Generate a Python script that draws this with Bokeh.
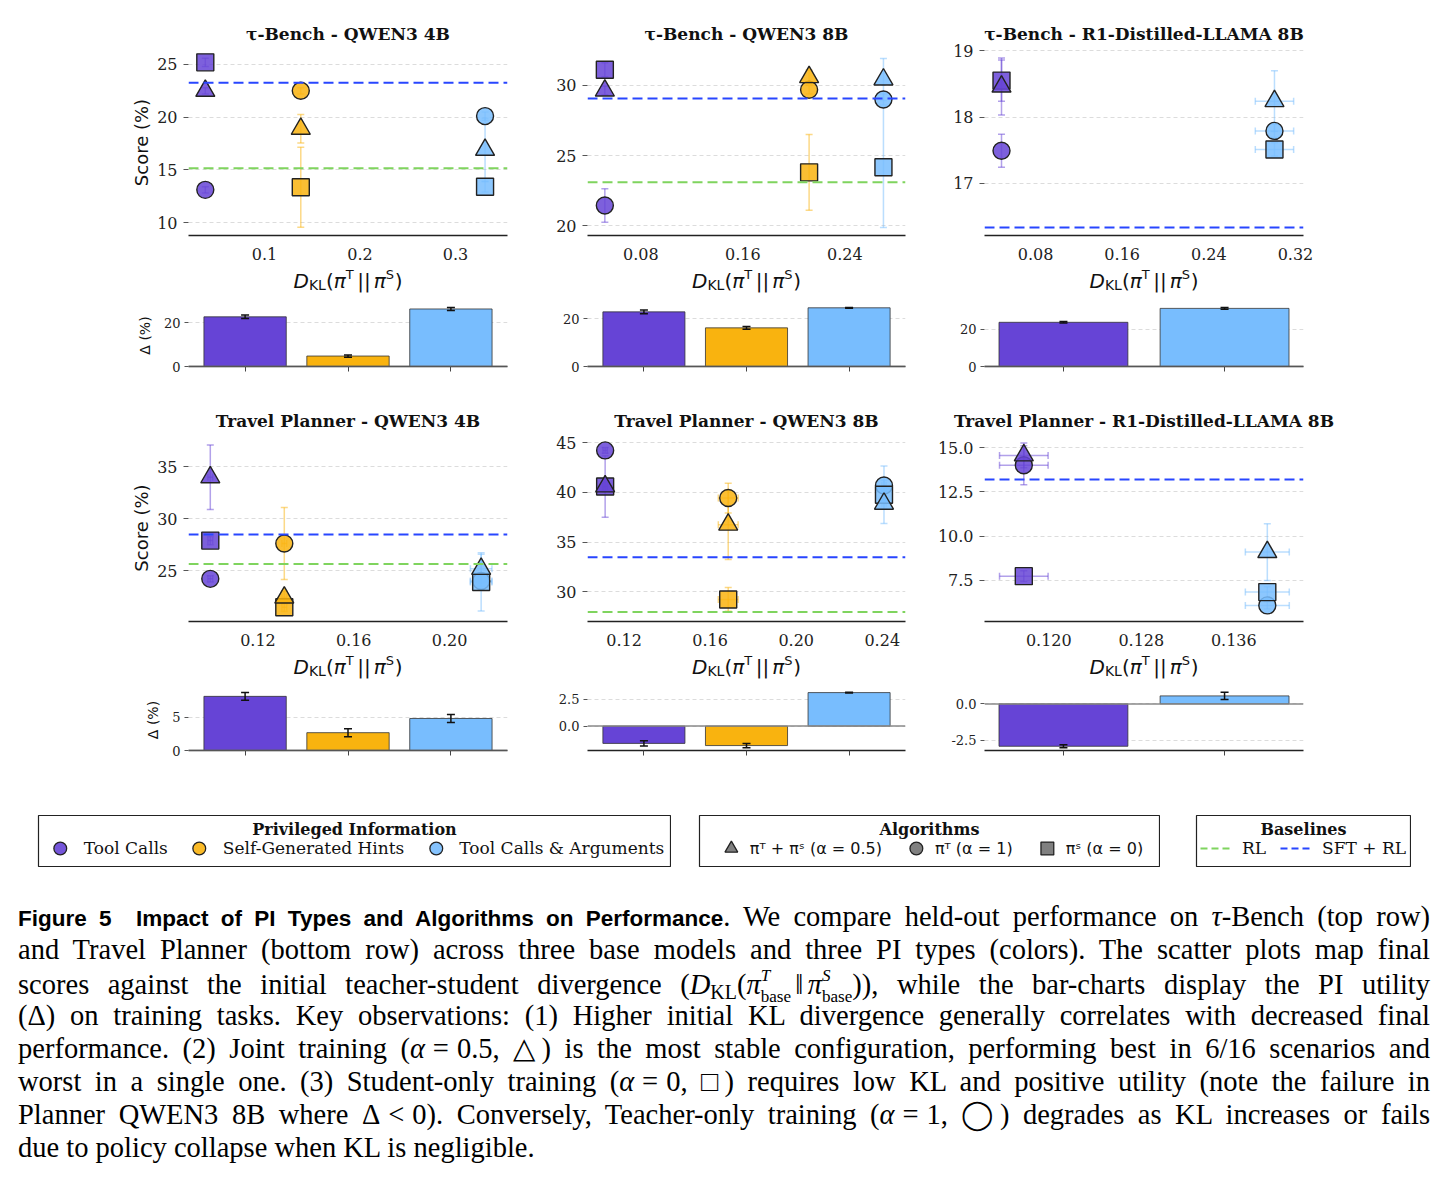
from bokeh.core.properties import value
from bokeh.embed import file_html
from bokeh.layouts import column, row
from bokeh.models import (ColumnDataSource, Div, FixedTicker, Label, Legend, LegendItem,
                          PrintfTickFormatter, Range1d, Spacer, Span, TeeHead, Whisker)
from bokeh.plotting import figure
from bokeh.resources import INLINE

# ---------------------------------------------------------------- data
PI_TYPES = ["Tool Calls", "Self-Generated Hints", "Tool Calls & Arguments"]
ALGORITHMS = ["πᵀ + πˢ (α = 0.5)", "πᵀ (α = 1)", "πˢ (α = 0)"]
BASELINES = ["RL", "SFT + RL"]
TITLES = [
    "τ-Bench - QWEN3 4B", "τ-Bench - QWEN3 8B", "τ-Bench - R1-Distilled-LLAMA 8B",
    "Travel Planner - QWEN3 4B", "Travel Planner - QWEN3 8B",
    "Travel Planner - R1-Distilled-LLAMA 8B",
]

# initial teacher-student KL, one value per PI type (None = not evaluated)
KL_DIV = [
    [0.038, 0.138, 0.331],
    [0.0518, 0.212, 0.2703],
    [0.0486, None, 0.3006],
    [0.1001, 0.131, 0.2132],
    [0.1112, 0.1684, 0.2408],
    [0.11784, None, 0.1389],
]
KL_DIV_ERR = [
    [0, 0, 0],
    [0, 0, 0],
    [0, None, 0.0177],
    [0.001, 0.001, 0.0045],
    [0.001, 0.0046, 0.001],
    [0.0021, None, 0.0019],
]
# held-out score (%) for each algorithm
SCORE_JOINT = [          # alpha = 0.5
    [22.5, 18.9, 16.9],
    [29.64, 30.6, 30.43],
    [18.46, None, 18.24],
    [33.97, 22.4, 25.16],
    [40.6, 36.75, 38.86],
    [14.56, None, 9.1],
]
SCORE_JOINT_ERR = [
    [0.3, 1.35, 3.0],
    [0.3, 0.5, 1.5],
    [0.43, None, 0.46],
    [3.1, 0.6, 1.4],
    [3.1, 3.5, 0.5],
    [0.7, None, 1.6],
]
SCORE_TEACHER = [        # alpha = 1
    [13.1, 22.5, 20.1],
    [21.43, 29.7, 29.0],
    [17.49, None, 17.79],
    [24.2, 27.6, 24.0],
    [44.23, 39.43, 40.7],
    [14.0, None, 6.09],
]
SCORE_TEACHER_ERR = [
    [0.3, 0.3, 0.4],
    [1.2, 0.3, 0.4],
    [0.25, None, 0.1],
    [0.3, 3.45, 0.5],
    [0.3, 1.5, 0.5],
    [1.1, None, 0.2],
]
SCORE_STUDENT = [        # alpha = 0
    [25.2, 13.35, 13.4],
    [31.12, 23.8, 24.16],
    [18.55, None, 17.51],
    [27.88, 21.47, 23.9],
    [40.6, 29.22, 39.77],
    [7.74, None, 6.84],
]
SCORE_STUDENT_ERR = [
    [0.4, 3.8, 0.5],
    [0.5, 2.7, 4.3],
    [0.31, None, 0.1],
    [0.4, 0.4, 2.8],
    [0.4, 1.2, 2.9],
    [0.3, None, 0.3],
]
RL_SCORE = [15.16, 23.1, None, 25.64, 27.95, None]
SFT_RL_SCORE = [23.27, 29.07, 16.33, 28.46, 33.48, 13.2]

# PI utility on training tasks
PI_DELTA = [
    [22.8, 4.8, 26.4],
    [22.9, 16.2, 24.6],
    [23.8, None, 31.3],
    [8.2, 2.7, 4.85],
    [-1.6, -1.8, 3.1],
    [-2.92, None, 0.55],
]
PI_DELTA_ERR = [
    [0.8, 0.5, 0.7],
    [0.8, 0.6, 0.15],
    [0.4, None, 0.5],
    [0.6, 0.6, 0.6],
    [0.25, 0.2, 0.03],
    [0.1, None, 0.25],
]

X_TICKS = [[0.1, 0.2, 0.3], [0.08, 0.16, 0.24], [0.08, 0.16, 0.24, 0.32],
           [0.12, 0.16, 0.20], [0.12, 0.16, 0.20, 0.24], [0.120, 0.128, 0.136]]
X_TICK_FMT = ["%.1f", "%.2f", "%.2f", "%.2f", "%.2f", "%.3f"]
Y_TICKS = [[10, 15, 20, 25], [20, 25, 30], [17, 18, 19],
           [25, 30, 35], [30, 35, 40, 45], [7.5, 10, 12.5, 15]]
Y_TICK_FMT = ["%d", "%d", "%d", "%d", "%d", "%.1f"]
DELTA_TICKS = [[0, 20], [0, 20], [0, 20], [0, 5], [-2.5, 0, 2.5], [-2.5, 0]]
DELTA_TICK_FMT = ["%d", "%d", "%d", "%d", "%.1f", "%.1f"]

# axis extents of the scatter panels
X_EXTENT = [(0.0204, 0.3545), (0.0382, 0.2876), (0.0329, 0.3274),
            (0.091, 0.2242), (0.103, 0.2508), (0.11444, 0.14203)]
Y_EXTENT = [(8.77, 26.42), (19.29, 32.57), (16.21, 19.02),
            (20.1, 38.08), (27.0, 45.83), (5.18, 15.74)]

# ---------------------------------------------------------------- style
PI_COLORS = ["#6644d6", "#f9b30f", "#78bdfe"]
RL_COLOR = "#7fd45e"
SFT_COLOR = "#2846ff"
SERIF = "DejaVu Serif"
SANS = "DejaVu Sans"
EDGE = "#222222"

COL_W = [545, 383, 520]
BORDER_L = [188, 42, 56]
BORDER_R = [38, 23, 145]
STRIP_H = 28


def base_style(p):
    p.outline_line_color = None
    p.background_fill_color = "white"
    p.border_fill_color = "white"
    p.xgrid.visible = False
    p.ygrid.grid_line_color = "#dcdcdc"
    p.ygrid.grid_line_dash = "4 3"
    p.ygrid.grid_line_width = 1
    p.xaxis.axis_line_color = EDGE
    p.xaxis.axis_line_width = 1.3
    p.yaxis.axis_line_color = None
    p.axis.minor_tick_line_color = None
    p.axis.major_tick_in = 0
    p.yaxis.major_tick_out = 5
    p.yaxis.major_tick_line_color = "#555555"
    p.axis.major_label_text_font = SERIF
    p.axis.major_label_text_color = "#222222"


def whisker(src, base, dim, color, alpha, width, cap, level="underlay"):
    head = dict(size=cap, line_color=color, line_alpha=alpha, line_width=width)
    return Whisker(source=src, base=base, lower="lower", upper="upper", dimension=dim,
                   level=level, line_color=color, line_alpha=alpha, line_width=width,
                   upper_head=TeeHead(**head), lower_head=TeeHead(**head))


def scatter_panel(i):
    c, r = i % 3, i // 3
    p = figure(width=COL_W[c], height=268 if r == 0 else 269,
               x_range=Range1d(*X_EXTENT[i]), y_range=Range1d(*Y_EXTENT[i]),
               min_border_left=BORDER_L[c], min_border_right=BORDER_R[c],
               min_border_top=49, min_border_bottom=33,
               toolbar_location=None, output_backend="svg", title=TITLES[i])
    base_style(p)
    p.title.text_font = SERIF
    p.title.text_font_style = "bold"
    p.title.text_font_size = "17px"
    p.title.align = "center"
    p.title.standoff = 11 if r == 0 else 8
    p.title.text_color = "#111111"

    p.xaxis.ticker = FixedTicker(ticks=X_TICKS[i])
    p.xaxis.formatter = PrintfTickFormatter(format=X_TICK_FMT[i])
    p.yaxis.ticker = FixedTicker(ticks=Y_TICKS[i])
    p.yaxis.formatter = PrintfTickFormatter(format=Y_TICK_FMT[i])
    p.xaxis.major_tick_out = 0
    p.xaxis.major_tick_line_color = None
    p.xaxis.major_label_standoff = 12
    p.yaxis.major_label_standoff = 6
    p.axis.major_label_text_font_size = "16px"
    if c == 0:
        p.yaxis.axis_label = "Score (%)"
        p.yaxis.axis_label_text_font = SANS
        p.yaxis.axis_label_text_font_style = "normal"
        p.yaxis.axis_label_text_font_size = "18px"
        p.yaxis.axis_label_text_color = "#111111"
        p.yaxis.axis_label_standoff = 2

    if RL_SCORE[i] is not None:
        p.add_layout(Span(location=RL_SCORE[i], dimension="width", line_color=RL_COLOR,
                          line_width=2, line_dash="10 5"))
    p.add_layout(Span(location=SFT_RL_SCORE[i], dimension="width", line_color=SFT_COLOR,
                      line_width=2, line_dash="10 5"))

    series = [(SCORE_TEACHER, SCORE_TEACHER_ERR, "circle", 17),
              (SCORE_STUDENT, SCORE_STUDENT_ERR, "square", 17),
              (SCORE_JOINT, SCORE_JOINT_ERR, "triangle", 19)]
    for k, color in enumerate(PI_COLORS):
        x = KL_DIV[i][k]
        if x is None:
            continue
        ys = [s[i][k] for s, _, _, _ in series]
        es = [e[i][k] for _, e, _, _ in series]
        ysrc = ColumnDataSource(dict(x=[x] * 3, lower=[y - e for y, e in zip(ys, es)],
                                     upper=[y + e for y, e in zip(ys, es)]))
        p.add_layout(whisker(ysrc, "x", "height", color, 0.5, 1.5, 7))
        xe = KL_DIV_ERR[i][k]
        if xe:
            xsrc = ColumnDataSource(dict(y=ys, lower=[x - xe] * 3, upper=[x + xe] * 3))
            p.add_layout(whisker(xsrc, "y", "width", color, 0.5, 1.5, 7))
        for (s, _, marker, size), y in zip(series, ys):
            p.scatter(x=[x], y=[y], marker=marker, size=size, fill_color=color,
                      fill_alpha=0.85, line_color=EDGE, line_width=1.4)
    return p


def kl_title(c):
    # strip under a scatter panel carrying the x-axis title D_KL(pi^T || pi^S)
    w = COL_W[c]
    p = figure(width=w, height=STRIP_H, x_range=Range1d(0, w), y_range=Range1d(0, STRIP_H),
               min_border=0, title=None, toolbar_location=None, output_backend="svg",
               x_axis_type=None, y_axis_type=None)
    p.outline_line_color = None
    pieces = [("D", "20px", "italic", 0, 15.4), ("KL", "14px", "normal", -4, 17.0),
              ("(", "20px", "normal", 0, 7.8), ("π", "20px", "italic", 0, 12.0),
              ("T", "13px", "normal", 6, 11.6), ("||", "20px", "normal", 0, 16.5),
              ("π", "20px", "italic", 0, 12.0), ("S", "13px", "normal", 6, 8.9),
              (")", "20px", "normal", 0, 7.8)]
    total = sum(pc[4] for pc in pieces)
    x = BORDER_L[c] + (w - BORDER_L[c] - BORDER_R[c]) / 2 - total / 2
    xs, ys = [], []
    for pc in pieces:
        xs.append(x)
        ys.append(16 + pc[3])
        x += pc[4]
    src = ColumnDataSource(dict(x=xs, y=ys, text=[pc[0] for pc in pieces],
                                size=[pc[1] for pc in pieces], style=[pc[2] for pc in pieces]))
    p.text(x="x", y="y", text="text", text_font=value(SANS), text_font_size="size",
           text_font_style="style", text_align="left", text_baseline="alphabetic",
           text_color="#111111", source=src)
    return p


def delta_panel(i):
    c, r = i % 3, i // 3
    ks = [k for k in range(3) if PI_DELTA[i][k] is not None]
    xs = list(range(len(ks)))
    vals = [PI_DELTA[i][k] for k in ks]
    errs = [PI_DELTA_ERR[i][k] for k in ks]
    lo = min(0, min(v - e for v, e in zip(vals, errs)))
    hi = max(0, max(v + e for v, e in zip(vals, errs)))
    pad = 0.05 * (hi - lo)
    y0 = lo - pad if lo < 0 else 0
    y1 = hi + pad if hi > 0 else 0
    half = 0.55 if len(ks) == 3 else 0.49

    p = figure(width=COL_W[c], height=89 if r == 0 else 88, title=None,
               x_range=Range1d(-half, len(ks) - 1 + half), y_range=Range1d(y0, y1),
               min_border_left=BORDER_L[c], min_border_right=BORDER_R[c],
               min_border_top=8 if r == 0 else 7, min_border_bottom=19 if r == 0 else 20,
               toolbar_location=None, output_backend="svg")
    base_style(p)
    p.xaxis.ticker = FixedTicker(ticks=xs)
    p.xaxis.major_label_overrides = {x: "" for x in xs}
    p.xaxis.major_tick_out = 5
    p.xaxis.major_tick_line_color = "#444444"
    p.yaxis.ticker = FixedTicker(ticks=DELTA_TICKS[i])
    p.yaxis.formatter = PrintfTickFormatter(format=DELTA_TICK_FMT[i])
    p.yaxis.major_label_text_font_size = "13px"
    p.yaxis.major_tick_out = 4
    p.yaxis.major_label_standoff = 4
    if c == 0:
        p.yaxis.axis_label = "Δ (%)"
        p.yaxis.axis_label_text_font = SANS
        p.yaxis.axis_label_text_font_style = "normal"
        p.yaxis.axis_label_text_font_size = "14px"
        p.yaxis.axis_label_text_color = "#111111"
        p.yaxis.axis_label_standoff = 8

    src = ColumnDataSource(dict(
        x=xs, top=vals, color=[PI_COLORS[k] for k in ks], pi=[PI_TYPES[k] for k in ks],
        lower=[v - e for v, e in zip(vals, errs)], upper=[v + e for v, e in zip(vals, errs)]))
    p.vbar(x="x", top="top", bottom=0, width=0.8, fill_color="color", line_color="#333333",
           line_width=0.8, source=src)
    p.add_layout(Span(location=0, dimension="width", line_color="#8a8a8a", line_width=1.5))
    p.add_layout(whisker(src, "x", "height", "#111111", 1.0, 1.5, 8, level="annotation"))
    return p


def legend_box(width, title, entries, font, font_size, standoff, spacing):
    p = figure(width=width + 2, height=53, x_range=Range1d(0, 1), y_range=Range1d(0, 1),
               min_border=1, toolbar_location=None, output_backend="svg",
               x_axis_type=None, y_axis_type=None)
    p.outline_line_color = EDGE
    p.outline_line_width = 1.2
    items = []
    for label, kind, kw in entries:
        # legend proxies: a single point parked outside the visible range
        if kind == "line":
            rend = p.line(x=[-2, -1], y=[-2, -2], **kw)
        else:
            rend = p.scatter(x=[-2], y=[-2], marker=kind, line_color=EDGE, line_width=1.3, **kw)
        items.append(LegendItem(label=label, renderers=[rend]))
    leg = Legend(items=items, orientation="horizontal", location="bottom_center",
                 margin=0, padding=2, spacing=spacing, label_standoff=standoff,
                 glyph_width=32, glyph_height=32, label_text_font=font,
                 label_text_font_size=font_size, label_text_color="#111111",
                 border_line_alpha=0, background_fill_alpha=0)
    p.add_layout(leg)
    p.add_layout(Label(x=width / 2, y=37, x_units="screen", y_units="screen", text=title,
                       text_font=SERIF, text_font_style="bold", text_font_size="16px",
                       text_align="center", text_baseline="middle", text_color="#111111"))
    return p


scatter_rows = [row(*[scatter_panel(3 * r + c) for c in range(3)]) for r in range(2)]
title_rows = [row(*[kl_title(c) for c in range(3)]) for r in range(2)]
delta_rows = [row(*[delta_panel(3 * r + c) for c in range(3)]) for r in range(2)]

pi_legend = legend_box(632, "Privileged Information",
                       [(n, "circle", dict(fill_color=col, fill_alpha=0.9))
                        for n, col in zip(PI_TYPES, PI_COLORS)],
                       SERIF, "17px", 8, 15)
algo_legend = legend_box(460, "Algorithms",
                         [(n, m, dict(fill_color="#808080"))
                          for n, m in zip(ALGORITHMS, ["triangle", "circle", "square"])],
                         SANS, "16px", 3, 18)
base_legend = legend_box(214, "Baselines",
                         [(BASELINES[0], "line", dict(line_color=RL_COLOR, line_width=2,
                                                      line_dash="7 4")),
                          (BASELINES[1], "line", dict(line_color=SFT_COLOR, line_width=2,
                                                      line_dash="7 4"))],
                         SERIF, "17px", 10, 14)
legend_row = column(Spacer(height=44),
                    row(Spacer(width=37), pi_legend, Spacer(width=27), algo_legend,
                        Spacer(width=35), base_legend))


def stack(sup, sub):
    return ('<span style="display:inline-block;vertical-align:-0.45em;line-height:1.2;'
            'font-size:0.6em;text-align:left;">'
            f'<span style="display:block;font-style:italic;">{sup}</span>'
            f'<span style="display:block;">{sub}</span></span>')


def eq(a, b):
    return f'{a}<span style="margin:0 0.28em;">{b}</span>'


caption_lines = [
    '<span style="font-family:\'Liberation Sans\';font-weight:bold;font-size:22.5px;">'
    'Figure 5&nbsp;&nbsp;Impact of PI Types and Algorithms on Performance</span>. '
    'We compare held-out performance on <i>τ</i>-Bench (top row)',
    'and Travel Planner (bottom row) across three base models and three PI types (colors). '
    'The scatter plots map final',
    'scores against the initial teacher-student divergence (<i>D</i>'
    '<span style="font-size:0.7em;vertical-align:-0.28em;">KL</span>(<i>π</i>'
    + stack("T", "base") + '<span style="margin:0 0.15em;">‖</span><i>π</i>'
    + stack("S", "base") + ')), while the bar-charts display the PI utility',
    '(Δ) on training tasks. Key observations: (1) Higher initial KL divergence generally '
    'correlates with decreased final',
    'performance. (2) Joint training (' + eq('<i>α</i>', '=') + '0.5, △) is the most stable '
    'configuration, performing best in 6/16 scenarios and',
    'worst in a single one. (3) Student-only training (' + eq('<i>α</i>', '=') + '0, □) '
    'requires low KL and positive utility (note the failure in',
    'Planner QWEN3 8B where ' + eq('Δ', '&lt;') + '0). Conversely, Teacher-only training ('
    + eq('<i>α</i>', '=') + '1, ◯) degrades as KL increases or fails',
    'due to policy collapse when KL is negligible.',
]
line_css = ("height:33px;line-height:33px;width:1412px;margin-left:18px;"
            "text-align:justify;text-align-last:justify;")
html = ('<div style="padding-top:33px;font-family:\'Liberation Serif\';font-size:28.5px;'
        'color:#000;">')
for n, ln in enumerate(caption_lines):
    css = line_css if n < len(caption_lines) - 1 else line_css.replace(
        "text-align-last:justify;", "text-align-last:left;")
    html += f'<div style="{css}">{ln}</div>'
html += "</div>"
caption = Div(text=html, width=1448, height=300, margin=0)

layout = column(scatter_rows[0], title_rows[0], delta_rows[0],
                scatter_rows[1], title_rows[1], delta_rows[1],
                legend_row, caption)

open("out.html", "w").write(file_html(layout, INLINE))
